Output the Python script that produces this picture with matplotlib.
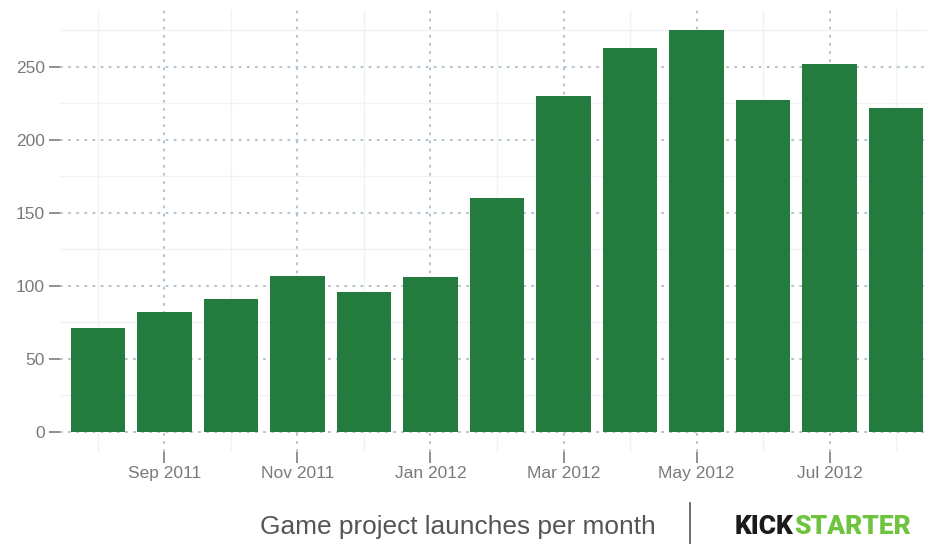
import matplotlib.pyplot as plt

# monthly game project launches, Aug 2011 - Aug 2012
months = ['Aug 2011', 'Sep 2011', 'Oct 2011', 'Nov 2011', 'Dec 2011', 'Jan 2012',
          'Feb 2012', 'Mar 2012', 'Apr 2012', 'May 2012', 'Jun 2012', 'Jul 2012', 'Aug 2012']
launches = [71, 82, 91, 107, 96, 106, 160, 230, 263, 275, 227, 252, 222]
yticks = [0, 50, 100, 150, 200, 250]

bar_col = '#237b3e'
grid_col = '#a9bfcc'
txt_col = '#7a7a7a'

plt.rcParams['font.family'] = ['Liberation Sans', 'DejaVu Sans']

fig = plt.figure(figsize=(9.27, 5.44), dpi=100)
ax = fig.add_axes([60/927, (544-452)/544, 874/927, 442/544])

x = list(range(len(months)))
ax.bar(x, launches, width=0.82, color=bar_col, zorder=3)

ax.set_xlim(-0.57, len(months) - 0.43)
ax.set_ylim(-13.75, 288.75)

major_x = x[1::2]
ax.set_xticks(major_x)
ax.set_xticklabels([months[i] for i in major_x])
ax.set_xticks(x[0::2], minor=True)
ax.set_yticks(yticks)
ax.set_yticks([25, 75, 125, 175, 225, 275], minor=True)

ax.grid(which='major', color=grid_col, linestyle=(0, (1.5, 3)), linewidth=1.3, zorder=1)
ax.grid(which='minor', color='#f0f2f5', linestyle='-', linewidth=1, zorder=1)

ax.tick_params(axis='both', which='major', colors='#888888', labelcolor=txt_col,
               labelsize=12.5, length=8, width=1.3)
ax.tick_params(axis='both', which='minor', length=0)
ax.tick_params(axis='y', pad=3)
ax.tick_params(axis='x', pad=2)
for s in ax.spines.values():
    s.set_visible(False)

# footer
fig.text(458/927, 1 - 527/544, 'Game project launches per month', ha='center', va='center',
         fontsize=18.9, color='#555555')
fig.add_artist(plt.Line2D([690/927, 690/927], [0, 1 - 503/544], color='#555555', linewidth=1.2))
t1 = fig.text(735/927, 1 - 527/544, 'KICK', ha='left', va='center', fontsize=19,
              fontweight='black', color='#1a1a1a', family=['Roboto', 'DejaVu Sans'])
fig.canvas.draw()
bb = t1.get_window_extent()
fig.text(bb.x1 / 927, 1 - 527/544, 'STARTER', ha='left', va='center', fontsize=19,
         fontweight='black', color='#6ec43e', family=['Roboto', 'DejaVu Sans'])

fig.savefig('out.png', dpi=100)
